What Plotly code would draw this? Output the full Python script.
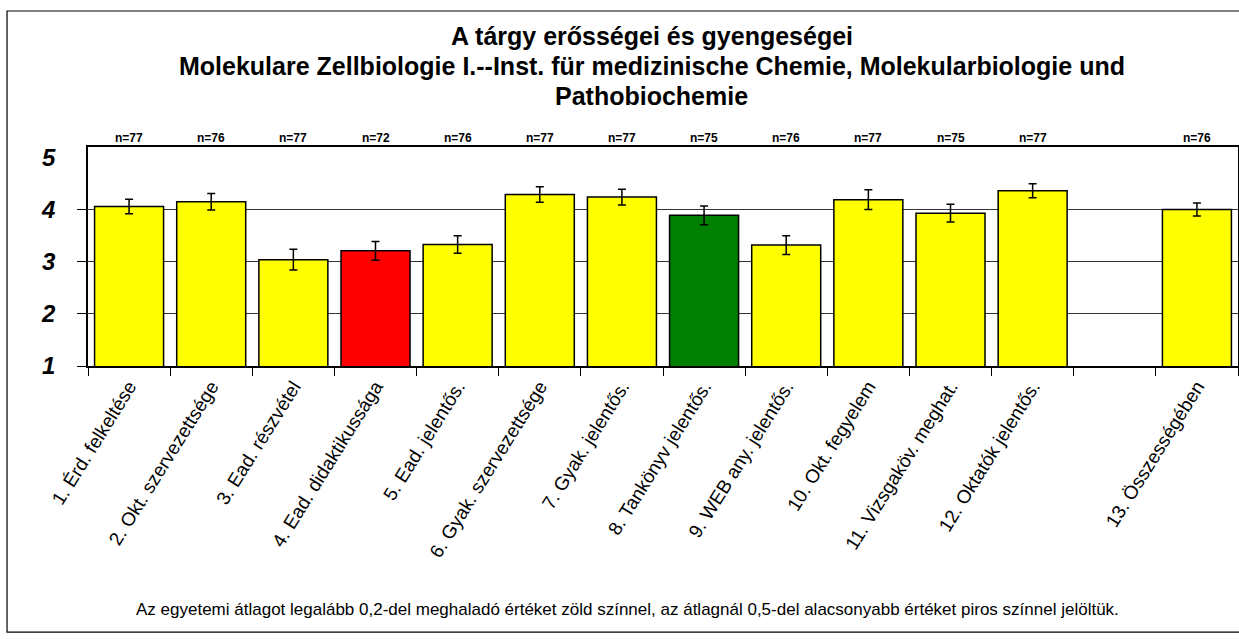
import plotly.graph_objects as go

# --- data -----------------------------------------------------------------
labels = [
    "1. Érd. felkeltése", "2. Okt. szervezettsége", "3. Ead. részvétel",
    "4. Ead. didaktikussága", "5. Ead. jelentős.", "6. Gyak. szervezettsége",
    "7. Gyak. jelentős.", "8. Tankönyv jelentős.", "9. WEB any. jelentős.",
    "10. Okt. fegyelem", "11. Vizsgaköv. meghat.", "12. Oktatók jelentős.",
    " ", "13. Összességében",
]
means = [4.06, 4.15, 3.04, 3.21, 3.33, 4.29, 4.24, 3.89, 3.32, 4.19, 3.93, 4.36, None, 4.00]
errors = [0.14, 0.16, 0.20, 0.18, 0.17, 0.15, 0.15, 0.18, 0.18, 0.19, 0.17, 0.135, None, 0.125]
counts = ["n=77", "n=76", "n=77", "n=72", "n=76", "n=77", "n=77", "n=75",
          "n=76", "n=77", "n=75", "n=77", "", "n=76"]
# "high" = at least 0.2 above university mean, "low" = 0.5 below it
flags = ["", "", "", "low", "", "", "", "high", "", "", "", "", "", ""]
y_ticks = [1, 2, 3, 4, 5]

title_lines = [
    "A tárgy erősségei és gyengeségei",
    "Molekulare Zellbiologie I.--Inst. für medizinische Chemie, Molekularbiologie und",
    "Pathobiochemie",
]
footnote = ("Az egyetemi átlagot legalább 0,2-del meghaladó értéket zöld színnel, "
            "az átlagnál 0,5-del alacsonyabb értéket piros színnel jelöltük.")

FLAG_COLOURS = {"": "#FFFF00", "low": "#FF0000", "high": "#008000"}
FONT = "Liberation Sans, Arial, sans-serif"

fig = go.Figure(
    go.Bar(
        x=labels, y=means,
        marker=dict(color=[FLAG_COLOURS[f] for f in flags],
                    line=dict(color="black", width=1.5)),
        error_y=dict(type="data", array=errors, color="black", thickness=1.5, width=4),
        width=0.84,
    )
)

for lab, n in zip(labels, counts):
    if n:
        fig.add_annotation(x=lab, y=1.041, xref="x", yref="paper", text=f"<b>{n}</b>",
                           showarrow=False, yanchor="middle",
                           font=dict(size=12, family=FONT, color="black"))

# three-line bold title, one annotation per line
for line, ypos in zip(title_lines, [1.507, 1.370, 1.233]):
    fig.add_annotation(x=0.49, y=ypos, xref="paper", yref="paper", text=f"<b>{line}</b>",
                       showarrow=False, yanchor="middle",
                       font=dict(size=25, family=FONT, color="black"))

fig.add_annotation(x=0.469, y=-1.114, xref="paper", yref="paper", text=footnote,
                   showarrow=False, yanchor="middle",
                   font=dict(size=17, family=FONT, color="black"))

# outer frame around the whole chart (right side runs off the picture)
fig.add_shape(type="rect", xref="paper", yref="paper",
              x0=-0.0704, x1=1.01, y0=-1.215, y1=1.621,
              line=dict(color="black", width=1.2), layer="below")

fig.update_layout(
    width=1239, height=639,
    margin=dict(l=88, r=1, t=147, b=273, autoexpand=False),
    paper_bgcolor="white", plot_bgcolor="white",
    showlegend=False,
    font=dict(family=FONT, color="black"),
)
fig.update_yaxes(
    range=[1, 5.2], tickvals=y_ticks, automargin=False,
    showgrid=False, ticks="",
    minor=dict(tickvals=y_ticks[:-1], ticks="outside", ticklen=9, tickcolor="black",
               showgrid=True, gridcolor="#333", gridwidth=1),
    showline=True, linecolor="black", linewidth=1.5, mirror=True,
    ticklabelstandoff=26,
    tickfont=dict(size=24, family=FONT, weight="bold", style="italic"),
    zeroline=False,
)
fig.update_xaxes(
    type="category", categoryorder="array", categoryarray=labels, automargin=False,
    tickson="boundaries", ticks="outside", ticklen=8, tickcolor="black",
    showline=True, linecolor="black", linewidth=2, mirror=True,
    tickangle=-58, tickfont=dict(size=19, family=FONT),
)

# drop the default 8px body margin so the figure sits at the page corner
fig.write_html("out.html", config={"displayModeBar": False},
               post_script="document.body.style.margin = '0';")
